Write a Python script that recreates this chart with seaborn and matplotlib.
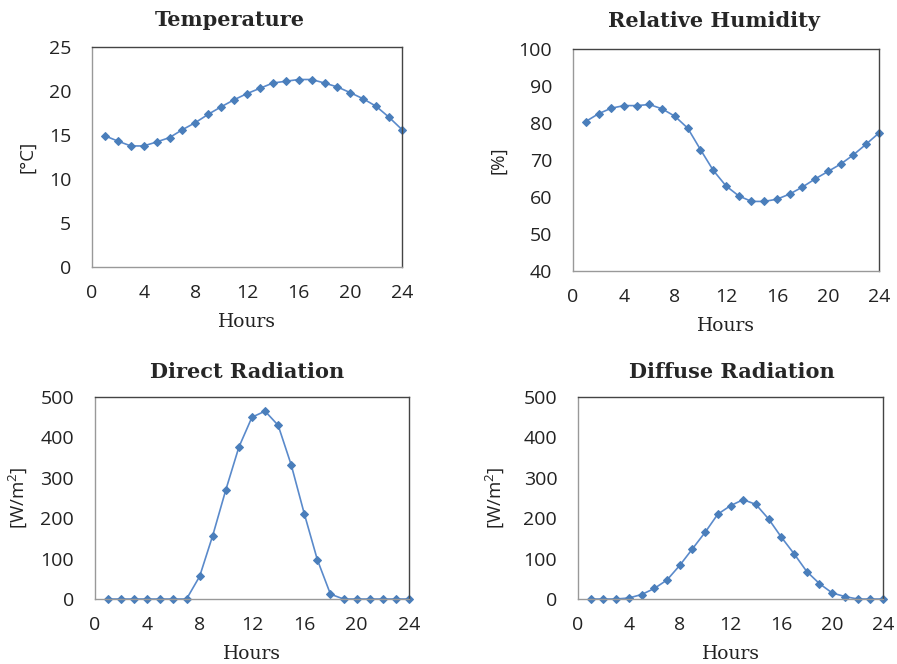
import pandas as pd
import matplotlib.pyplot as plt
import seaborn as sns
import matplotlib as mpl

hours = list(range(1, 25))
temperature = [14.9, 14.3, 13.75, 13.75, 14.2, 14.7, 15.6, 16.4, 17.35, 18.2, 19.0, 19.7,
               20.3, 20.9, 21.1, 21.3, 21.3, 20.9, 20.45, 19.8, 19.1, 18.25, 17.0, 15.6]
humidity = [80.4, 82.5, 84.0, 84.7, 84.7, 85.0, 83.8, 81.8, 78.6, 72.8, 67.2, 63.0,
            60.3, 58.8, 58.8, 59.4, 60.8, 62.7, 64.9, 66.9, 68.9, 71.4, 74.3, 77.3]
direct_rad = [0, 0, 0, 0, 0, 0, 0, 56, 157, 270, 376, 450,
              465, 430, 332, 211, 97, 12, 0, 0, 0, 0, 0, 0]
diffuse_rad = [0, 0, 0, 2.5, 11, 26, 47, 83, 124, 165, 210, 231,
               246, 234, 198, 153, 112, 68, 38, 15, 6, 0, 0, 0]

titles = ['Temperature', 'Relative Humidity', 'Direct Radiation', 'Diffuse Radiation']
ylabels = ['[\u00b0C]', '[%]', '[W/m$^2$]', '[W/m$^2$]']
ylims = [(0, 25), (40, 100), (0, 500), (0, 500)]
yticks = [range(0, 26, 5), range(40, 101, 10), range(0, 501, 100), range(0, 501, 100)]
xticks = [0, 4, 8, 12, 16, 20, 24]

df = pd.DataFrame({'Hours': hours, 'Temperature': temperature, 'Relative Humidity': humidity,
                   'Direct Radiation': direct_rad, 'Diffuse Radiation': diffuse_rad})

sns.set_style('white')
plt.rcParams['font.family'] = ['Open Sans', 'DejaVu Sans']
plt.rcParams['mathtext.fontset'] = 'custom'
plt.rcParams['mathtext.rm'] = 'Open Sans'

# axes boxes [left, bottom, width, height] and title / label placement
boxes = [[0.1026, 0.598, 0.3456, 0.3313],
         [0.6388, 0.5919, 0.3411, 0.3343],
         [0.1059, 0.0979, 0.3500, 0.3042],
         [0.6444, 0.0979, 0.3400, 0.3042]]
title_x = [0.445, 0.46, 0.484, 0.505]
title_pad = [15, 16, 14, 14]
ylab_x = [-0.18, -0.216, -0.207, -0.233]
xlab_y = [-0.21, -0.207, -0.228, -0.228]

line_color = '#5A8ACB'
mark_color = '#4A7EBB'
fig = plt.figure(figsize=(8.97, 6.64), dpi=100)

for i, name in enumerate(titles):
    ax = fig.add_axes(boxes[i])
    sns.lineplot(data=df, x='Hours', y=name, ax=ax, color=line_color, linewidth=1.2,
                 marker='D', markersize=4.5, markerfacecolor=mark_color,
                 markeredgecolor=mark_color, clip_on=False)
    ax.set_xlim(0, 24)
    ax.set_ylim(*ylims[i])
    ax.set_xticks(xticks)
    ax.set_yticks(list(yticks[i]))
    ax.tick_params(axis='both', length=0, labelsize=14, colors='#222222')
    ax.tick_params(axis='x', pad=12)
    ax.tick_params(axis='y', pad=15)
    ax.set_title(name, x=title_x[i], pad=title_pad[i], fontsize=15,
                 fontweight='bold', family='DejaVu Serif')
    ax.set_xlabel('Hours', fontsize=13.5, family='DejaVu Serif', color='#222222')
    ax.set_ylabel(ylabels[i], fontsize=13.5, color='#222222')
    ax.xaxis.set_label_coords(0.5, xlab_y[i])
    ax.yaxis.set_label_coords(ylab_x[i], 0.5)
    for side in ['left', 'bottom']:
        ax.spines[side].set_color('#999999')
    for side in ['top', 'right']:
        ax.spines[side].set_color('#444444')
    for side in ax.spines:
        ax.spines[side].set_linewidth(1)

fig.savefig('out.png', dpi=100)
